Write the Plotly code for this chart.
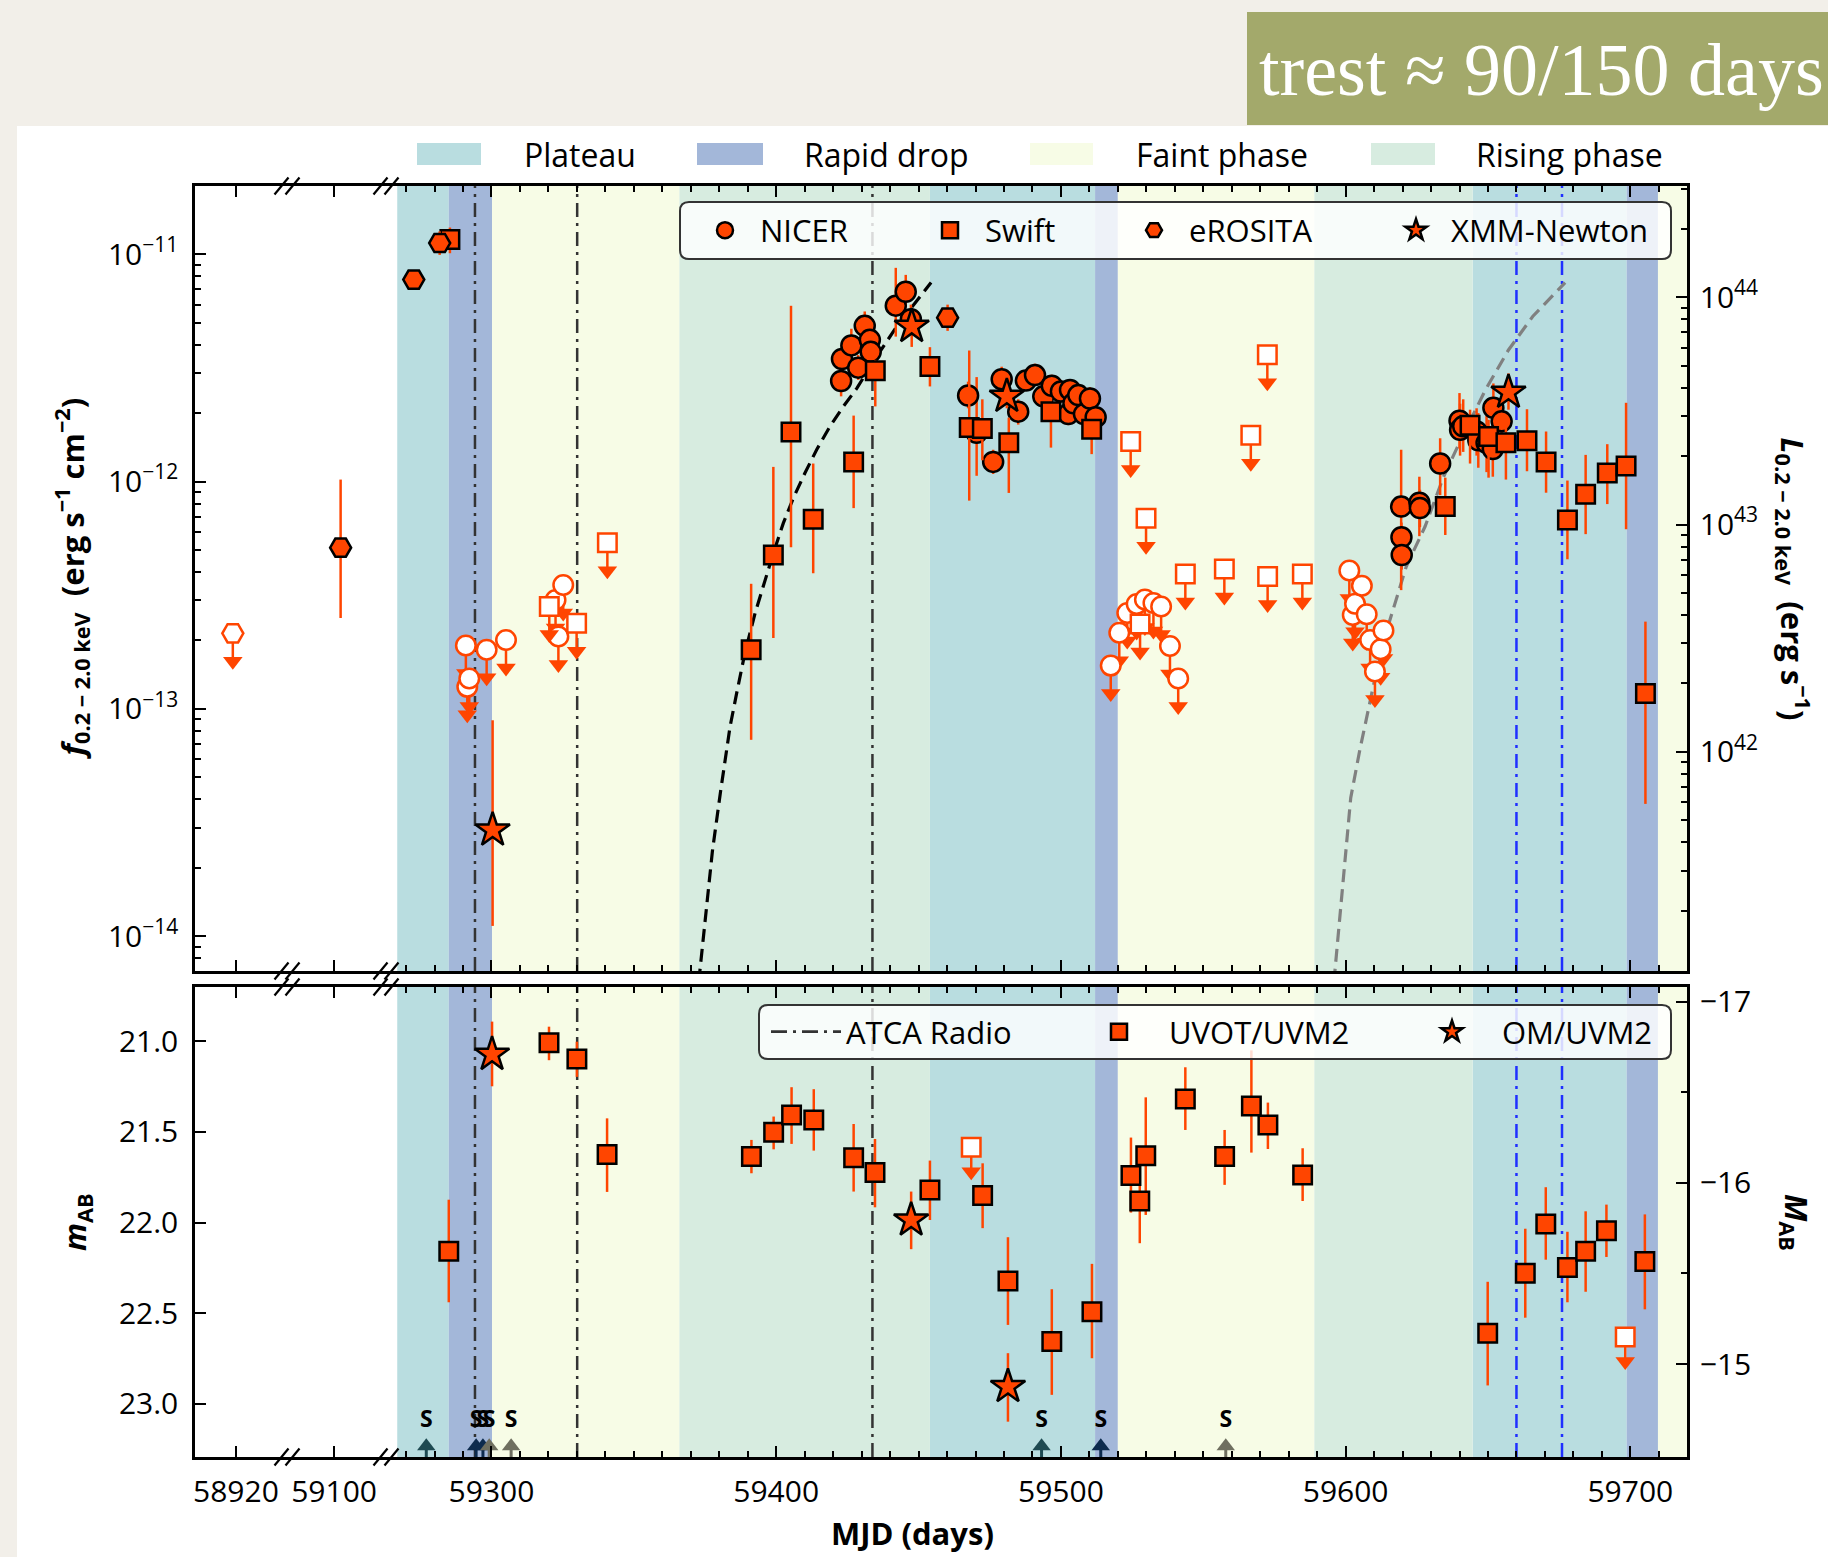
import plotly.graph_objects as go

# ============================== DATA =======================================
# Spectral-phase intervals (MJD)
plateau_start = [59266.9, 59454.0, 59644.6]
plateau_end = [59285.0, 59512.0, 59698.7]
drop_start = [59285.0, 59512.0, 59698.7]
drop_end = [59300.2, 59520.0, 59709.7]
faint_start = [59300.2, 59520.0, 59709.7]
faint_end = [59366.0, 59589.0, 59719.9]
rising_start = [59366.0, 59589.0]
rising_end = [59454.0, 59644.6]
phase_names = ["Plateau", "Rapid drop", "Faint phase", "Rising phase"]

# Radio epochs (ATCA) and other marked epochs
atca_mjd = [59294.2, 59330.1, 59433.8]
blue_mjd = [59660.0, 59676.0]

# NICER detections (0.2-2 keV flux, erg/s/cm2)
nicer_mjd = [59422.8, 59423.1, 59426.4, 59428.8, 59431.1, 59432.9, 59433.2, 59442.0, 59445.5, 59447.3,
             59467.4, 59470.4, 59476.2, 59479.2, 59485.0, 59487.7, 59490.9, 59493.8, 59496.8, 59500.0,
             59502.6, 59503.2, 59504.4, 59506.1, 59508.1, 59510.2, 59512.2,
             59619.5, 59619.6, 59619.7, 59625.9, 59626.1, 59633.2, 59640.0, 59640.2, 59641.3, 59646.0,
             59646.6, 59649.5, 59651.7, 59651.9, 59654.8]
nicer_flux = [2.77e-12, 3.46e-12, 3.97e-12, 3.17e-12, 4.84e-12, 4.20e-12, 3.72e-12, 5.94e-12, 6.84e-12, 5.18e-12,
              2.39e-12, 1.64e-12, 1.22e-12, 2.82e-12, 2.03e-12, 2.78e-12, 2.94e-12, 2.37e-12, 2.64e-12, 2.49e-12,
              1.98e-12, 2.53e-12, 2.21e-12, 2.40e-12, 1.98e-12, 2.32e-12, 1.92e-12,
              7.76e-13, 5.69e-13, 4.75e-13, 8.07e-13, 7.64e-13, 1.20e-12, 1.85e-12, 1.69e-12, 1.75e-12, 1.66e-12,
              1.52e-12, 1.48e-12, 1.39e-12, 2.11e-12, 1.84e-12]
nicer_lo = [2.37e-12, 3.05e-12, 3.50e-12, 2.80e-12, 4.20e-12, 3.70e-12, 3.30e-12, 4.34e-12, 5.89e-12, 4.50e-12,
            2.10e-12, 1.06e-12, 1.08e-12, 2.45e-12, 1.78e-12, 2.50e-12, 2.65e-12, 2.12e-12, 2.37e-12, 2.23e-12,
            1.77e-12, 2.27e-12, 1.98e-12, 2.15e-12, 1.76e-12, 2.07e-12, 1.70e-12,
            3.33e-13, 4.90e-13, 4.10e-13, 5.75e-13, 6.30e-13, 8.71e-13, 1.40e-12, 1.30e-12, 1.35e-12, 1.30e-12,
            1.15e-12, 1.10e-12, 1.05e-12, 1.65e-12, 1.45e-12]
nicer_hi = [3.10e-12, 4.00e-12, 4.70e-12, 3.60e-12, 5.60e-12, 4.80e-12, 4.25e-12, 8.71e-12, 8.11e-12, 6.00e-12,
            2.75e-12, 2.88e-12, 1.38e-12, 3.20e-12, 2.30e-12, 3.10e-12, 3.30e-12, 2.65e-12, 2.95e-12, 2.80e-12,
            2.22e-12, 2.82e-12, 2.48e-12, 2.68e-12, 2.22e-12, 2.60e-12, 2.17e-12,
            1.38e-12, 6.60e-13, 5.50e-13, 1.05e-12, 9.20e-13, 1.55e-12, 2.45e-12, 2.20e-12, 2.30e-12, 2.10e-12,
            2.00e-12, 1.95e-12, 1.85e-12, 2.70e-12, 2.35e-12]

# NICER upper limits
nicer_ul_mjd = [59291.0, 59291.5, 59292.2, 59298.3, 59305.1, 59322.5, 59323.5, 59325.2,
                59517.5, 59520.5, 59523.3, 59526.6, 59529.5, 59532.5, 59535.2, 59538.3, 59541.2,
                59601.3, 59602.5, 59603.3, 59605.7, 59607.4, 59608.6, 59610.3, 59612.3, 59613.3]
nicer_ul_flux = [1.90e-13, 1.25e-13, 1.36e-13, 1.82e-13, 2.01e-13, 3.01e-13, 2.08e-13, 3.51e-13,
                 1.55e-13, 2.16e-13, 2.64e-13, 2.89e-13, 3.03e-13, 2.92e-13, 2.82e-13, 1.89e-13, 1.36e-13,
                 4.06e-13, 2.59e-13, 2.90e-13, 3.48e-13, 2.61e-13, 2.01e-13, 1.46e-13, 1.83e-13, 2.21e-13]

# Swift/XRT detections
swift_mjd = [59285.4, 59391.2, 59399.0, 59405.2, 59413.0, 59427.2, 59434.8, 59454.0, 59467.8, 59472.4, 59481.7,
             59496.5, 59510.8, 59635.0, 59643.7, 59650.2, 59656.3, 59663.7, 59670.4, 59677.9, 59684.3, 59691.9,
             59698.5, 59705.3]
swift_flux = [1.16e-11, 1.82e-13, 4.75e-13, 1.65e-12, 6.82e-13, 1.22e-12, 3.07e-12, 3.21e-12, 1.73e-12, 1.71e-12,
              1.48e-12, 2.03e-12, 1.70e-12, 7.76e-13, 1.77e-12, 1.58e-12, 1.48e-12, 1.51e-12, 1.22e-12, 6.78e-13,
              8.79e-13, 1.09e-12, 1.17e-12, 1.17e-13]
swift_lo = [1.01e-11, 7.31e-14, 2.05e-13, 5.14e-13, 3.95e-13, 7.64e-13, 2.14e-12, 2.62e-12, 8.24e-13, 1.24e-12,
            8.91e-13, 1.41e-12, 1.32e-12, 5.82e-13, 1.20e-12, 1.04e-12, 1.02e-12, 1.11e-12, 8.93e-13, 4.55e-13,
            5.87e-13, 7.96e-13, 6.17e-13, 3.82e-14]
swift_hi = [1.31e-11, 3.55e-13, 1.16e-12, 5.93e-12, 1.20e-12, 1.95e-12, 3.43e-12, 3.90e-12, 3.77e-12, 2.30e-12,
            1.91e-12, 2.34e-12, 1.91e-12, 1.04e-12, 2.07e-12, 1.87e-12, 1.75e-12, 2.08e-12, 1.66e-12, 1.01e-12,
            1.31e-12, 1.46e-12, 2.22e-12, 2.42e-13]

# Swift/XRT upper limits
swift_ul_mjd = [59320.3, 59329.9, 59340.7, 59524.5, 59527.8, 59529.9, 59543.7, 59557.4, 59566.7, 59572.5,
                59572.6, 59584.8]
swift_ul_flux = [2.82e-13, 2.38e-13, 5.38e-13, 1.50e-12, 2.36e-13, 6.90e-13, 3.92e-13, 4.12e-13, 1.60e-12,
                 3.61e-12, 3.82e-13, 3.92e-13]

# eROSITA
ero_mjd = [59272.7, 59281.8, 59460.2]
ero_flux = [7.73e-12, 1.12e-11, 5.26e-12]
ero_lo = [7.35e-12, 9.93e-12, 4.60e-12]
ero_hi = [8.15e-12, 1.26e-11, 6.00e-12]
ero_early_mjd = [59102.3]
ero_early_flux = [5.12e-13]
ero_early_lo = [2.51e-13]
ero_early_hi = [1.02e-12]
ero_ul_mjd = [58918.9]
ero_ul_flux = [2.15e-13]

# XMM-Newton
xmm_mjd = [59300.4, 59447.6, 59481.0, 59657.2]
xmm_flux = [2.93e-14, 4.81e-12, 2.37e-12, 2.47e-12]
xmm_lo = [1.11e-14, 3.91e-12, 2.10e-12, 2.07e-12]
xmm_hi = [8.91e-14, 5.69e-12, 2.70e-12, 2.99e-12]

# Rise models (dashed curves)
model1_mjd = [59372.8, 59375.5, 59377.6, 59380.5, 59383.8, 59386.1, 59389.0, 59392.6, 59396.1, 59399.0,
              59402.5, 59406.0, 59410.1, 59414.2, 59418.9, 59423.6, 59428.3, 59435.3, 59442.3, 59448.2, 59454.4]
model1_flux = [6.31e-15, 1.32e-14, 2.37e-14, 4.37e-14, 8.36e-14, 1.17e-13, 1.76e-13, 2.64e-13, 3.69e-13, 4.84e-13,
               6.56e-13, 8.45e-13, 1.09e-12, 1.38e-12, 1.75e-12, 2.14e-12, 2.57e-12, 3.55e-12, 4.80e-12, 5.98e-12,
               7.50e-12]
model2_mjd = [59595.9, 59598.2, 59600.3, 59601.8, 59605.0, 59607.5, 59609.9, 59614.8, 59621.3, 59627.9,
              59634.4, 59640.9, 59649.1, 59657.2, 59665.7, 59677.1]
model2_flux = [6.31e-15, 1.32e-14, 2.37e-14, 4.07e-14, 6.61e-14, 9.33e-14, 1.29e-13, 2.29e-13, 4.23e-13, 6.34e-13,
               1.05e-12, 1.57e-12, 2.53e-12, 3.79e-12, 5.32e-12, 7.50e-12]

# UV: Swift/UVOT UVM2 (AB mag)
uvot_mjd = [59285.0, 59320.2, 59330.0, 59340.6, 59391.3, 59399.1, 59405.4, 59413.2, 59427.2, 59434.7, 59454.0,
            59472.5, 59481.4, 59496.8, 59510.9, 59524.6, 59527.7, 59529.8, 59543.7, 59557.5, 59566.9, 59572.7,
            59584.9, 59649.9, 59663.1, 59670.3, 59677.9, 59684.3, 59691.6, 59705.1]
uvot_mag = [22.158, 21.008, 21.098, 21.624, 21.636, 21.502, 21.406, 21.434, 21.642, 21.724, 21.820,
            21.851, 22.322, 22.657, 22.492, 21.741, 21.881, 21.632, 21.318, 21.636, 21.357, 21.461,
            21.737, 22.611, 22.280, 22.008, 22.248, 22.158, 22.045, 22.215]
uvot_bright = [21.874, 20.919, 21.002, 21.425, 21.544, 21.415, 21.253, 21.264, 21.456, 21.539, 21.658,
               21.673, 22.081, 22.368, 22.228, 21.531, 21.673, 21.309, 21.143, 21.489, 21.050, 21.338,
               21.590, 22.327, 22.034, 21.805, 22.051, 21.938, 21.901, 21.955]
uvot_faint = [22.440, 21.104, 21.196, 21.831, 21.728, 21.596, 21.566, 21.603, 21.829, 21.916, 21.986,
              22.031, 22.565, 22.951, 22.749, 21.945, 22.114, 21.958, 21.489, 21.792, 21.614, 21.594,
              21.881, 22.899, 22.525, 22.205, 22.440, 22.382, 22.190, 22.479]
uvot_ul_mjd = [59468.5, 59698.2]
uvot_ul_mag = [21.585, 22.632]

# XMM/OM UVM2
om_mjd = [59300.2, 59447.4, 59481.4]
om_mag = [21.072, 21.986, 22.905]
om_bright = [20.891, 21.829, 22.721]
om_faint = [21.248, 22.147, 23.099]

# Spectroscopic epochs ("S")
s_teal_mjd = [59277.1, 59493.2]
s_navy_mjd = [59294.6, 59297.0, 59514.0]
s_grey_mjd = [59299.2, 59306.9, 59557.9]

# Conversions for the right-hand axes
LOG_L_OFFSET = 55.189   # log10(L / f)
DIST_MOD = 37.781       # m - M

# ============================== STYLE ======================================
ORANGE = "#FF4500"
FONT = "Open Sans"
C_PLATEAU = "#b9dde0"
C_DROP = "#a3b7d9"
C_FAINT = "#f7fce6"
C_RISING = "#d7ece0"
DASHDOT = "14px,6px,3px,6px"

W, H = 1828, 1557
ML, MR, MT, MB = 195, 141, 186, 100
PW, PH = W - ML - MR, H - MT - MB


def px(X):
    return (X - ML) / PW


def py(Y):
    return (H - MB - Y) / PH


SEG1 = [58905.6, 58937.6]
SEG2 = [59083.1, 59117.9]
SEG3 = [59262.6, 59719.9]
FLUX_LOG_RANGE = [-14.153, -10.70]
MAG_RANGE = [23.294, 20.70]
XD1, XD2 = px(286), px(385)
TOP_DOM = [py(971), 1.0]
BOT_DOM = [0.0, py(987)]
ARROW_FACTOR = 0.753
MAG_ARROW = 0.135

SZ_CIRCLE, SZ_SQUARE, SZ_HEX, SZ_STAR = 20, 18.5, 21, 26

fig = go.Figure()


def filled(symbol, size):
    return dict(symbol=symbol, size=size, color=ORANGE, line=dict(color="black", width=2.5))


def hollow(symbol, size):
    return dict(symbol=symbol, size=size, color="white", line=dict(color=ORANGE, width=2.5))


def errbars(vals, lo, hi):
    return dict(type="data", symmetric=False,
                array=[h - v for v, h in zip(vals, hi)],
                arrayminus=[v - l for v, l in zip(vals, lo)],
                color=ORANGE, thickness=2.5, width=0)


def add_det(x, y, lo, hi, symbol, size, xa, ya, name=None, legend="legend"):
    fig.add_trace(go.Scatter(x=x, y=y, xaxis=xa, yaxis=ya, mode="markers",
                             marker=filled(symbol, size), error_y=errbars(y, lo, hi),
                             name=name if name else "", showlegend=name is not None, legend=legend))


def add_ul_flux(x, y, symbol, size, xa, ya):
    head = [v * ARROW_FACTOR for v in y]
    fig.add_trace(go.Scatter(x=x, y=head, xaxis=xa, yaxis=ya, mode="markers",
                             marker=dict(symbol="triangle-down", size=17, color=ORANGE, line=dict(width=0)),
                             showlegend=False, hoverinfo="skip"))
    fig.add_trace(go.Scatter(x=x, y=y, xaxis=xa, yaxis=ya, mode="markers", marker=hollow(symbol, size),
                             error_y=dict(type="data", symmetric=False, array=[0] * len(y),
                                          arrayminus=[v - h for v, h in zip(y, head)],
                                          color=ORANGE, thickness=2.5, width=0),
                             showlegend=False))


def add_ul_mag(x, y, symbol, size, xa, ya):
    head = [v + MAG_ARROW for v in y]
    fig.add_trace(go.Scatter(x=x, y=head, xaxis=xa, yaxis=ya, mode="markers",
                             marker=dict(symbol="triangle-down", size=17, color=ORANGE, line=dict(width=0)),
                             showlegend=False, hoverinfo="skip"))
    fig.add_trace(go.Scatter(x=x, y=y, xaxis=xa, yaxis=ya, mode="markers", marker=hollow(symbol, size),
                             error_y=dict(type="data", symmetric=False, array=[MAG_ARROW] * len(y),
                                          arrayminus=[0] * len(y), color=ORANGE, thickness=2.5, width=0),
                             showlegend=False))


def helper(xa, ya, xv, yv):
    fig.add_trace(go.Scatter(x=[xv], y=[yv], xaxis=xa, yaxis=ya, mode="markers",
                             marker=dict(opacity=0), showlegend=False, hoverinfo="skip"))


# helper traces so that every axis segment is drawn
helper("x4", "y2", SEG1[0], 22.0)
helper("x5", "y2", SEG2[0], 22.0)
helper("x3", "y3", SEG3[0], 1e43)
helper("x6", "y4", SEG3[0], -16)

# ---- model curves
fig.add_trace(go.Scatter(x=model1_mjd, y=model1_flux, xaxis="x3", yaxis="y", mode="lines",
                         line=dict(color="black", width=3.2, dash="13px,7px"), showlegend=False))
fig.add_trace(go.Scatter(x=model2_mjd, y=model2_flux, xaxis="x3", yaxis="y", mode="lines",
                         line=dict(color="#808080", width=3.2, dash="13px,7px"), showlegend=False))

# ---- upper limits
add_ul_flux(ero_ul_mjd, ero_ul_flux, "hexagon2", SZ_HEX, "x", "y")
add_ul_flux(nicer_ul_mjd, nicer_ul_flux, "circle", SZ_CIRCLE - 0.5, "x3", "y")
add_ul_flux(swift_ul_mjd, swift_ul_flux, "square", SZ_SQUARE, "x3", "y")

# ---- detections
add_det(nicer_mjd, nicer_flux, nicer_lo, nicer_hi, "circle", SZ_CIRCLE, "x3", "y", "NICER", "legend2")
add_det(swift_mjd, swift_flux, swift_lo, swift_hi, "square", SZ_SQUARE, "x3", "y", "Swift", "legend3")
add_det(ero_mjd, ero_flux, ero_lo, ero_hi, "hexagon2", SZ_HEX, "x3", "y", "eROSITA", "legend4")
add_det(ero_early_mjd, ero_early_flux, ero_early_lo, ero_early_hi, "hexagon2", SZ_HEX, "x2", "y")
add_det(xmm_mjd, xmm_flux, xmm_lo, xmm_hi, "star", SZ_STAR, "x3", "y", "XMM-Newton", "legend5")

# ---- UV panel
fig.add_trace(go.Scatter(x=[None], y=[None], xaxis="x6", yaxis="y2", mode="lines",
                         line=dict(color="#333333", width=2.8, dash="16px,6px,3px,6px"), name="ATCA Radio",
                         legend="legend6"))
add_ul_mag(uvot_ul_mjd, uvot_ul_mag, "square", SZ_SQUARE, "x6", "y2")
add_det(uvot_mjd, uvot_mag, uvot_bright, uvot_faint, "square", SZ_SQUARE, "x6", "y2", "UVOT/UVM2", "legend7")
add_det(om_mjd, om_mag, om_bright, om_faint, "star", SZ_STAR, "x6", "y2", "OM/UVM2", "legend8")

# spectroscopic epochs
S_MARK_MAG = 23.235
S_TEXT_MAG = 23.095
for mj, col in ((s_teal_mjd, "#1e4a52"), (s_navy_mjd, "#0d2b4e"), (s_grey_mjd, "#6f6f60")):
    fig.add_trace(go.Scatter(x=mj, y=[S_MARK_MAG] * len(mj), xaxis="x6", yaxis="y2", mode="markers",
                             marker=dict(symbol="triangle-up", size=16, color=col, line=dict(width=0)),
                             error_y=dict(type="data", symmetric=False, array=[0.08] * len(mj),
                                          arrayminus=[0] * len(mj), color=col, thickness=3, width=0),
                             showlegend=False, hoverinfo="skip"))
    fig.add_trace(go.Scatter(x=mj, y=[S_TEXT_MAG] * len(mj), xaxis="x6", yaxis="y2", mode="text",
                             text=["<b>S</b>"] * len(mj),
                             textfont=dict(family=FONT, size=23, color="black"),
                             showlegend=False, hoverinfo="skip"))

# ============================== SHAPES =====================================
shapes = [dict(type="rect", xref="paper", yref="paper", x0=px(17), x1=px(W), y0=py(H), y1=py(126),
               fillcolor="white", line=dict(width=0), layer="below"),
          dict(type="rect", xref="paper", yref="paper", x0=px(1247), x1=px(W), y0=py(125), y1=py(12),
               fillcolor="#a3a96b", line=dict(width=0), layer="below")]

phase_sets = [(plateau_start, plateau_end, C_PLATEAU), (drop_start, drop_end, C_DROP),
              (faint_start, faint_end, C_FAINT), (rising_start, rising_end, C_RISING)]
for starts, ends, col in phase_sets:
    for a, b in zip(starts, ends):
        for xr, yr in (("x3", "y domain"), ("x6", "y2 domain")):
            shapes.append(dict(type="rect", xref=xr, yref=yr, x0=a, x1=b, y0=0, y1=1,
                               fillcolor=col, line=dict(width=0), layer="below"))

for mj_list, col in ((atca_mjd, "#333333"), (blue_mjd, "#1f2fff")):
    for v in mj_list:
        for xr, yr in (("x3", "y domain"), ("x6", "y2 domain")):
            shapes.append(dict(type="line", xref=xr, yref=yr, x0=v, x1=v, y0=0, y1=1,
                               line=dict(color=col, width=2.5, dash=DASHDOT), layer="below"))

# axis-break marks
for XB in (287, 386):
    for YB in (186, 971, 987, 1457):
        for off in (-5.5, 5.5):
            shapes.append(dict(type="line", xref="paper", yref="paper",
                               x0=px(XB + off - 7), y0=py(YB + 8.5), x1=px(XB + off + 7), y1=py(YB - 8.5),
                               line=dict(color="black", width=2.2), layer="above"))


def rounded_box(X0, Y0, X1, Y1, r=9):
    x0, x1, ya, yb = px(X0), px(X1), py(Y0), py(Y1)
    rx, ry = r / PW, r / PH
    path = (f"M {x0 + rx},{ya} L {x1 - rx},{ya} Q {x1},{ya} {x1},{ya - ry} "
            f"L {x1},{yb + ry} Q {x1},{yb} {x1 - rx},{yb} L {x0 + rx},{yb} Q {x0},{yb} {x0},{yb + ry} "
            f"L {x0},{ya - ry} Q {x0},{ya} {x0 + rx},{ya} Z")
    return dict(type="path", xref="paper", yref="paper", path=path, fillcolor="rgba(255,255,255,0.82)",
                line=dict(color="#333333", width=2), layer="above")


shapes.append(rounded_box(680, 202, 1671, 259))
shapes.append(rounded_box(759, 1005, 1671, 1059))

# phase legend patches
patch_x = [(417, 481), (697, 763), (1030, 1093), (1371, 1435)]
patch_cols = [C_PLATEAU, C_DROP, C_FAINT, C_RISING]
for (a, b), col in zip(patch_x, patch_cols):
    shapes.append(dict(type="rect", xref="paper", yref="paper", x0=px(a), x1=px(b), y0=py(165), y1=py(143),
                       fillcolor=col, line=dict(width=0), layer="above"))

# ============================== ANNOTATIONS ================================
ann = []
text_x = [522, 802, 1134, 1474]
for name, X in zip(phase_names, text_x):
    ann.append(dict(x=px(X), y=py(155), xref="paper", yref="paper", text=name, showarrow=False,
                    xanchor="left", yanchor="middle", font=dict(family=FONT, size=32, color="black")))

title_font = dict(family=FONT, size=31, color="black")
ann += [
    dict(x=px(72), y=py(578.5), xref="paper", yref="paper", textangle=-90, showarrow=False,
         xanchor="center", yanchor="middle",
         text="<b><i>f</i><sub>0.2 − 2.0 keV</sub>  (erg s<sup>−1</sup> cm<sup>−2</sup>)</b>", font=title_font),
    dict(x=px(76), y=py(1222), xref="paper", yref="paper", textangle=-90, showarrow=False,
         xanchor="center", yanchor="middle",
         text="<b><i>m</i><sub>AB</sub></b>", font=title_font),
    dict(x=px(1793), y=py(578.5), xref="paper", yref="paper", textangle=90, showarrow=False,
         xanchor="center", yanchor="middle",
         text="<b><i>L</i><sub>0.2 − 2.0 keV</sub>  (erg s<sup>−1</sup>)</b>", font=title_font),
    dict(x=px(1795), y=py(1222), xref="paper", yref="paper", textangle=90, showarrow=False,
         xanchor="center", yanchor="middle",
         text="<b><i>M</i><sub>AB</sub></b>", font=title_font),
    dict(x=px(912), y=py(1533), xref="paper", yref="paper", showarrow=False,
         xanchor="center", yanchor="middle",
         text="<b>MJD (days)</b>", font=title_font),
    dict(x=px(1257), y=py(70), xref="paper", yref="paper", showarrow=False, xanchor="left", yanchor="middle",
         text="trest ≈ 90/150 days", font=dict(family="Liberation Serif", size=74, color="white")),
]

# ============================== AXES =======================================
base = dict(showline=True, linecolor="black", linewidth=2.5, showgrid=False, zeroline=False,
            ticks="inside", tickcolor="black", tickwidth=2, ticklen=11,
            tickfont=dict(family=FONT, size=30, color="black"))
minor_x = dict(tickmode="linear", tick0=59300, dtick=10, ticks="inside", ticklen=6, tickwidth=1.5,
               tickcolor="black")


def xseg(domain, rng, anchor, labels, vals=None):
    d = dict(base, domain=domain, range=rng, anchor=anchor, mirror="ticks", showticklabels=labels,
             tickformat="d", ticklabelstandoff=6)
    if vals is None:
        d.update(tickmode="linear", tick0=59300, dtick=100, minor=minor_x)
    else:
        d.update(tickmode="array", tickvals=vals)
    return d


flux_minor = [k * 10.0 ** e for e in range(-15, -10) for k in range(2, 10)]
lum_minor = [k * 10.0 ** e for e in range(41, 45) for k in range(2, 10)]
minor_y = dict(ticks="inside", ticklen=6, tickwidth=1.5, tickcolor="black", tickmode="array")

layout_axes = dict(
    xaxis=xseg([0, XD1], SEG1, "y", False, [58920]),
    xaxis2=xseg([XD1, XD2], SEG2, "y", False, [59100]),
    xaxis3=xseg([XD2, 1], SEG3, "y", False),
    xaxis4=xseg([0, XD1], SEG1, "y2", True, [58920]),
    xaxis5=xseg([XD1, XD2], SEG2, "y2", True, [59100]),
    xaxis6=xseg([XD2, 1], SEG3, "y2", True),
    yaxis=dict(base, domain=TOP_DOM, anchor="x", type="log", range=FLUX_LOG_RANGE,
               tickmode="array", tickvals=[1e-14, 1e-13, 1e-12, 1e-11],
               ticktext=["10<sup>−14</sup>", "10<sup>−13</sup>", "10<sup>−12</sup>", "10<sup>−11</sup>"],
               minor=dict(minor_y, tickvals=flux_minor), ticklabelstandoff=8),
    yaxis3=dict(base, overlaying="y", anchor="x3", side="right", type="log",
                range=[FLUX_LOG_RANGE[0] + LOG_L_OFFSET, FLUX_LOG_RANGE[1] + LOG_L_OFFSET],
                tickmode="array", tickvals=[1e42, 1e43, 1e44],
                ticktext=["10<sup>42</sup>", "10<sup>43</sup>", "10<sup>44</sup>"],
                minor=dict(minor_y, tickvals=lum_minor), ticklabelstandoff=4),
    yaxis2=dict(base, domain=BOT_DOM, anchor="x4", range=MAG_RANGE, tickmode="array",
                tickvals=[21.0, 21.5, 22.0, 22.5, 23.0], ticktext=["21.0", "21.5", "22.0", "22.5", "23.0"],
                ticklabelstandoff=8),
    yaxis4=dict(base, overlaying="y2", anchor="x6", side="right",
                range=[MAG_RANGE[0] - DIST_MOD, MAG_RANGE[1] - DIST_MOD],
                tickmode="array", tickvals=[-17, -16, -15], ticktext=["−17", "−16", "−15"],
                minor=dict(minor_y, tickvals=[-16.5, -15.5]), ticklabelstandoff=4),
)


def leg(X, Yc, iw):
    return dict(x=px(X), y=py(Yc), xanchor="left", yanchor="middle", orientation="h",
                bgcolor="rgba(0,0,0,0)", borderwidth=0, itemwidth=iw, itemsizing="trace",
                font=dict(family=FONT, size=31, color="black"))


fig.update_layout(
    width=W, height=H, autosize=False,
    margin=dict(l=ML, r=MR, t=MT, b=MB, pad=0),
    paper_bgcolor="#f2efe9", plot_bgcolor="white",
    font=dict(family=FONT, size=30, color="black"),
    showlegend=True,
    legend2=leg(690, 230.5, 60),
    legend3=leg(915, 230.5, 60),
    legend4=leg(1119, 230.5, 60),
    legend5=leg(1381, 230.5, 60),
    legend6=leg(766, 1032, 70),
    legend7=leg(1069, 1032, 90),
    legend8=leg(1402, 1032, 90),
    shapes=shapes, annotations=ann, hovermode=False,
    **layout_axes,
)

fig.write_html("out.html")
